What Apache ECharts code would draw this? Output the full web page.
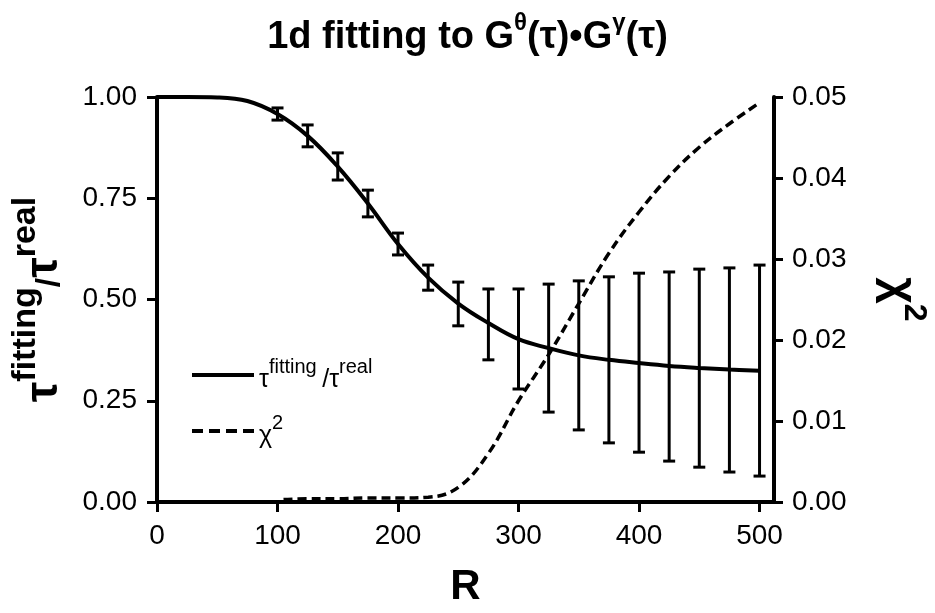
<!DOCTYPE html>
<html>
<head>
<meta charset="utf-8">
<script src="https://cdn.jsdelivr.net/npm/echarts@6/dist/echarts.min.js"></script>
<style>html,body{margin:0;padding:0;background:#fff;}#c{width:935px;height:613px;}</style>
</head>
<body>
<div id="c"></div>
<script>
// fitted curve tau_fitting / tau_real
const fitR = [0, 25, 50, 75, 100, 125, 150, 175, 200, 225, 250, 275, 300, 325, 350, 375, 400, 425, 450, 475, 500];
const fitV = [1.0, 1.0, 0.999, 0.99, 0.958, 0.904, 0.828, 0.737, 0.637, 0.554, 0.49, 0.442, 0.402, 0.38, 0.362, 0.351, 0.343, 0.336, 0.331, 0.327, 0.324];
// error bars
const errR = [100, 125, 150, 175, 200, 225, 250, 275, 300, 325, 350, 375, 400, 425, 450, 475, 500];
const errLow = [0.943, 0.877, 0.795, 0.704, 0.610, 0.523, 0.435, 0.351, 0.279, 0.222, 0.178, 0.146, 0.123, 0.101, 0.086, 0.074, 0.064];
const errHigh = [0.973, 0.931, 0.862, 0.770, 0.664, 0.585, 0.543, 0.526, 0.526, 0.538, 0.546, 0.556, 0.565, 0.568, 0.575, 0.578, 0.585];
// chi-square curve
const chiR = [105, 125, 150, 175, 200, 225, 250, 275, 300, 325, 350, 375, 400, 425, 450, 475, 500];
const chiV = [0.0003, 0.0004, 0.0004, 0.0005, 0.0005, 0.0006, 0.0018, 0.006, 0.0125, 0.0182, 0.0245, 0.0307, 0.0358, 0.0402, 0.0438, 0.0467, 0.0493];
// tick labels
const xTicks = [0, 100, 200, 300, 400, 500];

const FONT = 'Liberation Sans, Arial, sans-serif';
const chart = echarts.init(document.getElementById('c'), null, {renderer: 'canvas'});

const fitData = fitR.map((r, i) => [r, fitV[i]]);
const chiData = chiR.map((r, i) => [r, chiV[i]]);
const errData = errR.map((r, i) => [r, errLow[i], errHigh[i]]);

const axisLineStyle = {color: '#000', width: 4};
const solidIcon = 'path://M0,0h62v4h-62z';
const dashIcon = 'path://M0,0h11v4h-11z M17,0h11v4h-11z M34,0h11v4h-11z M51,0h11v4h-11z';

chart.setOption({
  backgroundColor: '#fff',
  animation: false,
  title: {
    text: '{a|1d fitting to G}{s|θ}{a|(τ)•G}{s|γ}{a|(τ)}',
    left: 'center',
    top: 6,
    textStyle: {
      rich: {
        a: {fontFamily: FONT, fontWeight: 'bold', fontSize: 38, color: '#000', lineHeight: 46, verticalAlign: 'bottom'},
        s: {fontFamily: FONT, fontWeight: 'bold', fontSize: 24, color: '#000', lineHeight: 46, verticalAlign: 'top'}
      }
    }
  },
  legend: {
    data: [
      {name: 'fit', icon: solidIcon},
      {name: 'chi2', icon: dashIcon}
    ],
    orient: 'vertical',
    left: 187,
    top: 352,
    itemWidth: 62,
    itemHeight: 4,
    itemGap: 20,
    itemStyle: {color: '#000'},
    formatter: function (name) {
      if (name === 'fit') return '{t|τ}{s|fitting }{t|/τ}{s|real}';
      return '{t|χ}{s|2}';
    },
    textStyle: {
      rich: {
        t: {fontFamily: FONT, fontSize: 25, color: '#000', lineHeight: 36, verticalAlign: 'bottom'},
        s: {fontFamily: FONT, fontSize: 20, color: '#000', lineHeight: 36, verticalAlign: 'top'}
      }
    }
  },
  grid: {left: 157, right: 161, top: 97, bottom: 111, containLabel: false, outerBoundsMode: 'none'},
  xAxis: {
    type: 'value',
    min: 0,
    max: 512,
    name: 'R',
    nameLocation: 'middle',
    nameGap: 64,
    nameTextStyle: {fontFamily: FONT, fontWeight: 'bold', fontSize: 42, color: '#000'},
    axisLine: {show: true, lineStyle: axisLineStyle},
    axisTick: {show: true, length: 10, lineStyle: {color: '#000', width: 3}, customValues: xTicks},
    axisLabel: {fontFamily: FONT, fontSize: 28, color: '#000', margin: 20, customValues: xTicks},
    splitLine: {show: false}
  },
  yAxis: [
    {
      type: 'value',
      min: 0,
      max: 1,
      interval: 0.25,
      position: 'left',
      name: '{t|τ}{s|fitting}{m|/}{t|τ}{s|real}',
      nameLocation: 'middle',
      nameRotate: 90,
      nameGap: 90,
      nameTextStyle: {
        rich: {
          t: {fontFamily: FONT, fontWeight: 'bold', fontSize: 46, color: '#000', lineHeight: 58, verticalAlign: 'bottom'},
          m: {fontFamily: FONT, fontWeight: 'bold', fontSize: 34, color: '#000', lineHeight: 58, verticalAlign: 'bottom'},
          s: {fontFamily: FONT, fontWeight: 'bold', fontSize: 34, color: '#000', lineHeight: 58, verticalAlign: 'top'}
        }
      },
      axisLine: {show: true, lineStyle: axisLineStyle},
      axisTick: {show: true, length: 10, lineStyle: {color: '#000', width: 3}},
      axisLabel: {fontFamily: FONT, fontSize: 28, color: '#000', margin: 20, formatter: v => v.toFixed(2)},
      splitLine: {show: false}
    },
    {
      type: 'value',
      min: 0,
      max: 0.05,
      interval: 0.01,
      position: 'right',
      name: '{t|χ}{s|2}',
      nameLocation: 'middle',
      nameRotate: -90,
      nameGap: 102,
      nameTextStyle: {
        rich: {
          t: {fontFamily: FONT, fontWeight: 'bold', fontSize: 46, color: '#000', lineHeight: 54, verticalAlign: 'bottom'},
          s: {fontFamily: FONT, fontWeight: 'bold', fontSize: 32, color: '#000', lineHeight: 54, verticalAlign: 'top'}
        }
      },
      axisLine: {show: true, lineStyle: axisLineStyle},
      axisTick: {show: true, length: 9, lineStyle: {color: '#000', width: 3}},
      axisLabel: {fontFamily: FONT, fontSize: 28, color: '#000', margin: 18, formatter: v => v.toFixed(2)},
      splitLine: {show: false}
    }
  ],
  series: [
    {
      name: 'fit',
      type: 'line',
      yAxisIndex: 0,
      data: fitData,
      smooth: 0.4,
      symbol: 'none',
      itemStyle: {color: '#000'},
      lineStyle: {color: '#000', width: 4}
    },
    {
      name: 'errors',
      type: 'custom',
      yAxisIndex: 0,
      data: errData,
      encode: {x: 0, y: [1, 2]},
      renderItem: function (params, api) {
        const x = api.value(0);
        const lo = api.coord([x, api.value(1)]);
        const hi = api.coord([x, api.value(2)]);
        const w = 6;
        const st = {stroke: '#000', lineWidth: 3, fill: null};
        return {
          type: 'group',
          children: [
            {type: 'line', shape: {x1: lo[0], y1: lo[1], x2: hi[0], y2: hi[1]}, style: st},
            {type: 'line', shape: {x1: lo[0] - w, y1: lo[1], x2: lo[0] + w, y2: lo[1]}, style: st},
            {type: 'line', shape: {x1: hi[0] - w, y1: hi[1], x2: hi[0] + w, y2: hi[1]}, style: st}
          ]
        };
      },
      z: 3
    },
    {
      name: 'chi2',
      type: 'line',
      yAxisIndex: 1,
      data: chiData,
      smooth: 0.4,
      symbol: 'none',
      itemStyle: {color: '#000'},
      lineStyle: {color: '#000', width: 3.5, type: [9, 5]}
    }
  ]
});
</script>
</body>
</html>
